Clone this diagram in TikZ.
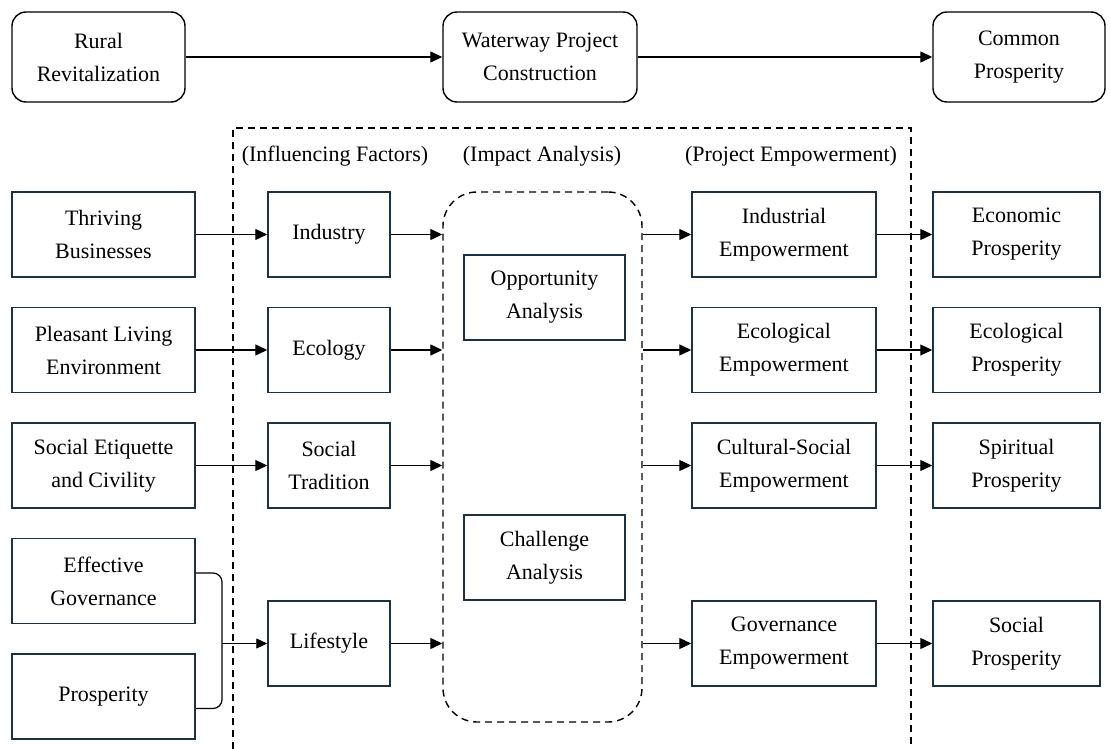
\documentclass[tikz,border=0pt]{standalone}
\usepackage{fontspec}
\setmainfont{Liberation Serif}
\newfontfamily\diagfont{Liberation Serif}
\usetikzlibrary{arrows.meta,calc}
\definecolor{boxline}{RGB}{28,50,64}
\begin{document}
\begin{tikzpicture}[x=1pt,y=-1pt,
  txt/.style={font=\diagfont\fontsize{22}{33}\selectfont, align=center, inner sep=0pt},
  stage/.style={txt, draw=black, line width=1.4pt, rounded corners=14pt, minimum height=90pt},
  block/.style={txt, draw=boxline, line width=1.5pt, minimum height=85pt},
  link/.style={line width=1.3pt, -{Triangle[length=12pt,width=11pt]}},
  thinlink/.style={line width=0.8pt, -{Triangle[length=11pt,width=10pt]}},
  frame/.style={line width=1.4pt, dash pattern=on 7pt off 5pt},
]
\useasboundingbox (0,0) rectangle (1111,749);

% top row: overall path
\node[stage, minimum width=173pt] (rural)    at (98.5,57)  {Rural\\Revitalization};
\node[stage, minimum width=194pt] (waterway) at (540,57)   {Waterway Project\\Construction};
\node[stage, minimum width=172pt] (common)   at (1019,57)  {Common\\Prosperity};
\draw[link] (rural.east) -- (waterway.west);
\draw[link] (waterway.east) -- (common.west);

% dashed frame around the project analysis
\draw[frame] (233,749) -- (233,128) -- (911,128) -- (911,749);
\node[txt] (lblfac) at (335,156) {(Influencing Factors)};
\node[txt] (lblimp) at (542,156) {(Impact Analysis)};
\node[txt] (lblemp) at (791,156) {(Project Empowerment)};

% left column: rural revitalization goals
\node[block, minimum width=183pt] (thriving) at (103.5,234.5) {Thriving\\Businesses};
\node[block, minimum width=183pt] (pleasant) at (103.5,350)   {Pleasant Living\\Environment};
\node[block, minimum width=183pt] (etiquette) at (103.5,465.5) {Social Etiquette\\and Civility};
\node[block, minimum width=183pt] (govern)   at (103.5,581)   {Effective\\Governance};
\node[block, minimum width=183pt] (prosp)    at (103.5,696.5) {Prosperity};

% influencing factors
\node[block, minimum width=122pt] (industry)  at (329,234.5) {Industry};
\node[block, minimum width=122pt] (ecology)   at (329,350)   {Ecology};
\node[block, minimum width=122pt] (tradition) at (329,465.5) {Social\\Tradition};
\node[block, minimum width=122pt] (lifestyle) at (329,643.5) {Lifestyle};

% impact analysis
\node[draw, line width=1.4pt, dash pattern=on 7pt off 5pt, rounded corners=34pt,
      minimum width=199pt, minimum height=530pt, inner sep=0pt] (impact) at (542.5,457) {};
\node[block, minimum width=161pt] (opport)    at (544.5,297.5) {Opportunity\\Analysis};
\node[block, minimum width=161pt] (challenge) at (544.5,557.5) {Challenge\\Analysis};

% project empowerment
\node[block, minimum width=184pt] (indemp)  at (784,234.5) {Industrial\\Empowerment};
\node[block, minimum width=184pt] (ecoemp)  at (784,350)   {Ecological\\Empowerment};
\node[block, minimum width=184pt] (culemp)  at (784,465.5) {Cultural-Social\\Empowerment};
\node[block, minimum width=184pt] (govemp)  at (784,643.5) {Governance\\Empowerment};

% common prosperity outcomes
\node[block, minimum width=167pt] (econ)     at (1016.5,234.5) {Economic\\Prosperity};
\node[block, minimum width=167pt] (ecopros)  at (1016.5,350)   {Ecological\\Prosperity};
\node[block, minimum width=167pt] (spirit)   at (1016.5,465.5) {Spiritual\\Prosperity};
\node[block, minimum width=167pt] (social)   at (1016.5,643.5) {Social\\Prosperity};

% goals -> factors
\draw[link] (thriving.east) -- (industry.west);
\draw[link] (pleasant.east) -- (ecology.west);
\draw[link] (etiquette.east) -- (tradition.west);
\draw[line width=1.2pt, rounded corners=9pt]
  ($(govern.east)+(0,-8)$) -- (222,573) -- (222,708.5) -- ($(prosp.east)+(0,12)$);
\coordinate (bmid) at (222,643.5);
\draw[thinlink] (bmid) -- (lifestyle.west);

% factors -> impact analysis
\draw[link] (industry.east)  -- (industry -| impact.west);
\draw[link] (ecology.east)   -- (ecology -| impact.west);
\draw[link] (tradition.east) -- (tradition -| impact.west);
\draw[link] (lifestyle.east) -- (lifestyle -| impact.west);

% impact analysis -> empowerment
\draw[link] (indemp -| impact.east) -- (indemp.west);
\draw[link] (ecoemp -| impact.east) -- (ecoemp.west);
\draw[link] (culemp -| impact.east) -- (culemp.west);
\draw[link] (govemp -| impact.east) -- (govemp.west);

% empowerment -> prosperity
\draw[link] (indemp.east) -- (econ.west);
\draw[link] (ecoemp.east) -- (ecopros.west);
\draw[link] (culemp.east) -- (spirit.west);
\draw[link] (govemp.east) -- (social.west);
\end{tikzpicture}
\end{document}
